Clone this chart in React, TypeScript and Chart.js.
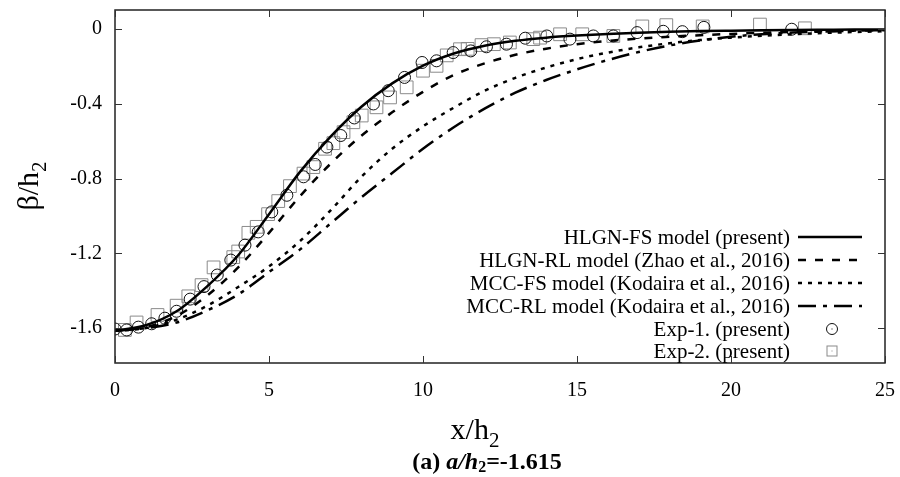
import React, { useEffect, useRef } from 'react';
import { Chart, registerables } from 'chart.js';

Chart.register(...registerables);

const FONT = '"Liberation Serif", "DejaVu Serif", serif';

const xTickValues = [0, 5, 10, 15, 20, 25];
const yTickValues = [-1.6, -1.2, -0.8, -0.4, 0];
const yTickLabels = ['-1.6', '-1.2', '-0.8', '-0.4', '0'];

const modelX = [0, 1, 2, 3, 4, 5, 6, 7, 8, 9, 10, 11, 12, 13, 14, 15, 16, 17, 18, 19, 20, 21, 22, 23, 24, 25];
const hlgnFS = [-1.615, -1.585, -1.51, -1.375, -1.21, -0.99, -0.765, -0.575, -0.415, -0.29, -0.195, -0.13, -0.088, -0.062, -0.045, -0.034, -0.026, -0.019, -0.014, -0.01, -0.0075, -0.0055, -0.004, -0.003, -0.002, -0.0015];
const hlgnRL = [-1.615, -1.595, -1.535, -1.425, -1.275, -1.09, -0.895, -0.72, -0.57, -0.445, -0.335, -0.245, -0.183, -0.137, -0.104, -0.08, -0.063, -0.05, -0.04, -0.032, -0.025, -0.019, -0.014, -0.01, -0.007, -0.005];
const mccFS = [-1.615, -1.6, -1.555, -1.48, -1.38, -1.27, -1.135, -0.97, -0.79, -0.64, -0.52, -0.42, -0.33, -0.26, -0.205, -0.16, -0.125, -0.097, -0.075, -0.058, -0.045, -0.035, -0.027, -0.02, -0.015, -0.011];
const mccRL = [-1.615, -1.6, -1.57, -1.505, -1.42, -1.3, -1.18, -1.04, -0.9, -0.77, -0.64, -0.525, -0.425, -0.34, -0.272, -0.215, -0.165, -0.122, -0.087, -0.06, -0.04, -0.027, -0.018, -0.012, -0.008, -0.005];

const exp1X = [0, 0.38, 0.76, 1.19, 1.62, 2.0, 2.44, 2.89, 3.32, 3.76, 4.22, 4.65, 5.09, 5.58, 6.12, 6.5, 6.88, 7.33, 7.77, 8.39, 8.87, 9.4, 9.97, 10.44, 10.98, 11.55, 12.06, 12.71, 13.32, 14.02, 14.77, 15.53, 16.18, 16.95, 17.8, 18.42, 19.12, 21.97];
const exp1Y = [-1.605, -1.61, -1.595, -1.577, -1.547, -1.51, -1.445, -1.378, -1.316, -1.236, -1.156, -1.085, -0.978, -0.889, -0.79, -0.724, -0.631, -0.569, -0.475, -0.4, -0.329, -0.258, -0.178, -0.169, -0.125, -0.116, -0.094, -0.08, -0.048, -0.036, -0.053, -0.036, -0.036, -0.018, -0.011, -0.013, 0.01, 0.0];

const exp2X = [0.32, 0.7, 1.38, 2.0, 2.38, 2.81, 3.2, 3.84, 4.0, 4.33, 4.6, 4.97, 5.3, 5.68, 6.12, 6.44, 6.82, 7.09, 7.42, 7.74, 8.01, 8.49, 8.93, 9.47, 10.0, 10.44, 10.77, 11.2, 11.45, 11.9, 12.3, 12.82, 13.58, 13.8, 14.45, 15.17, 16.18, 17.12, 17.9, 19.08, 20.94, 22.4];
const exp2Y = [-1.61, -1.57, -1.53, -1.48, -1.43, -1.37, -1.275, -1.22, -1.19, -1.09, -1.058, -0.99, -0.92, -0.84, -0.773, -0.738, -0.64, -0.61, -0.551, -0.498, -0.462, -0.418, -0.365, -0.311, -0.222, -0.196, -0.14, -0.107, -0.105, -0.085, -0.08, -0.071, -0.053, -0.045, -0.027, -0.027, -0.036, 0.015, 0.022, 0.015, 0.025, 0.005];

const legendLabels = [
  'HLGN-FS model (present)',
  'HLGN-RL model (Zhao et al., 2016)',
  'MCC-FS model (Kodaira et al., 2016)',
  'MCC-RL model (Kodaira et al., 2016)',
  'Exp-1. (present)',
  'Exp-2. (present)',
];

const toPts = (xs: number[], ys: number[]) => xs.map((x, i) => ({ x, y: ys[i] }));

const legendRows = [237, 260, 283, 306, 329, 351];

const decorPlugin = {
  id: 'decor',
  afterDraw(chart: any) {
    const { ctx, chartArea: a, scales } = chart;
    const xs = scales.x;
    const ys = scales.y;
    ctx.save();
    const line = (x1: number, y1: number, x2: number, y2: number) => {
      ctx.beginPath();
      ctx.moveTo(x1, y1);
      ctx.lineTo(x2, y2);
      ctx.stroke();
    };
    // frame
    ctx.setLineDash([]);
    ctx.strokeStyle = '#222';
    ctx.lineWidth = 1.5;
    ctx.strokeRect(a.left, a.top, a.right - a.left, a.bottom - a.top);
    // inward ticks
    ctx.lineWidth = 1;
    ctx.strokeStyle = '#333';
    xTickValues.forEach((v) => {
      const px = Math.round(xs.getPixelForValue(v)) + 0.5;
      line(px, a.bottom, px, a.bottom - 7);
      line(px, a.top, px, a.top + 7);
    });
    yTickValues.forEach((v) => {
      const py = Math.round(ys.getPixelForValue(v)) + 0.5;
      line(a.left, py, a.left + 7, py);
      line(a.right, py, a.right - 7, py);
    });

    // legend
    ctx.font = `21px ${FONT}`;
    ctx.textAlign = 'right';
    ctx.textBaseline = 'middle';
    chart.data.datasets.forEach((ds: any, i: number) => {
      const y = legendRows[i];
      ctx.fillStyle = '#000';
      ctx.fillText(legendLabels[i], 790, y + 1);
      if (ds.showLine !== false) {
        ctx.save();
        ctx.strokeStyle = ds.borderColor;
        ctx.lineWidth = ds.borderWidth;
        ctx.setLineDash(ds.borderDash || []);
        line(798, y, 862, y);
        ctx.restore();
      } else {
        ctx.save();
        ctx.strokeStyle = ds.pointBorderColor;
        ctx.lineWidth = 1;
        if (ds.pointStyle === 'circle') {
          ctx.beginPath();
          ctx.arc(832, y, 5.5, 0, Math.PI * 2);
          ctx.stroke();
        } else {
          ctx.strokeRect(827, y - 5, 10, 10);
        }
        ctx.fillStyle = ds.pointBorderColor;
        ctx.fillRect(831.5, y - 0.5, 1, 1);
        ctx.restore();
      }
    });

    // y title  β/h2
    ctx.save();
    ctx.translate(38, 186);
    ctx.rotate(-Math.PI / 2);
    ctx.fillStyle = '#000';
    ctx.textBaseline = 'alphabetic';
    ctx.textAlign = 'left';
    const yMain = 'β/h';
    ctx.font = `30px ${FONT}`;
    const wMain = ctx.measureText(yMain).width;
    ctx.font = `21px ${FONT}`;
    const wSub = ctx.measureText('2').width;
    const tot = wMain + wSub;
    ctx.font = `30px ${FONT}`;
    ctx.fillText(yMain, -tot / 2, 0);
    ctx.font = `21px ${FONT}`;
    ctx.fillText('2', -tot / 2 + wMain, 8);
    ctx.restore();

    // x title x/h2
    ctx.save();
    ctx.fillStyle = '#000';
    ctx.textBaseline = 'alphabetic';
    ctx.textAlign = 'left';
    ctx.font = `30px ${FONT}`;
    const xm = 'x/h';
    const wxm = ctx.measureText(xm).width;
    ctx.font = `21px ${FONT}`;
    const wxs = ctx.measureText('2').width;
    const cx = 475;
    const bx = cx - (wxm + wxs) / 2;
    ctx.font = `30px ${FONT}`;
    ctx.fillText(xm, bx, 439);
    ctx.font = `21px ${FONT}`;
    ctx.fillText('2', bx + wxm, 447);
    ctx.restore();

    // caption (a) a/h2=-1.615
    ctx.save();
    ctx.fillStyle = '#000';
    ctx.textBaseline = 'alphabetic';
    ctx.textAlign = 'left';
    const parts = [
      { t: '(a) ', f: `bold 24px ${FONT}`, dy: 0 },
      { t: 'a/h', f: `italic bold 24px ${FONT}`, dy: 0 },
      { t: '2', f: `bold 16px ${FONT}`, dy: 3 },
      { t: '=-1.615', f: `bold 24px ${FONT}`, dy: 0 },
    ];
    let total = 0;
    parts.forEach((p) => {
      ctx.font = p.f;
      total += ctx.measureText(p.t).width;
    });
    let px = 487 - total / 2;
    parts.forEach((p) => {
      ctx.font = p.f;
      ctx.fillText(p.t, px, 469 + p.dy);
      px += ctx.measureText(p.t).width;
    });
    ctx.restore();

    ctx.restore();
  },
};

export default function App() {
  const ref = useRef<HTMLCanvasElement>(null);
  useEffect(() => {
    document.body.style.margin = '0';
    const canvas = ref.current;
    if (!canvas) return;
    const lineDs = (data: number[], dash: number[]) => ({
      data: toPts(modelX, data),
      borderColor: '#000',
      backgroundColor: '#000',
      borderWidth: 2.5,
      borderDash: dash,
      pointRadius: 0,
      cubicInterpolationMode: 'monotone' as const,
      fill: false,
      showLine: true,
    });
    const chart = new Chart(canvas, {
      type: 'scatter',
      data: {
        datasets: [
          { label: legendLabels[0], ...lineDs(hlgnFS, []) },
          { label: legendLabels[1], ...lineDs(hlgnRL, [8, 9]) },
          { label: legendLabels[2], ...lineDs(mccFS, [4, 6]) },
          { label: legendLabels[3], ...lineDs(mccRL, [18, 7, 4, 7]) },
          {
            label: legendLabels[4],
            data: toPts(exp1X, exp1Y),
            showLine: false,
            pointStyle: 'circle',
            pointRadius: 6,
            pointBorderColor: '#111',
            pointBackgroundColor: 'rgba(0,0,0,0)',
            pointBorderWidth: 1,
          },
          {
            label: legendLabels[5],
            data: toPts(exp2X, exp2Y),
            showLine: false,
            pointStyle: 'rect',
            pointRadius: 9,
            pointBorderColor: '#8a8a8a',
            pointBackgroundColor: 'rgba(0,0,0,0)',
            pointBorderWidth: 1,
          },
        ],
      },
      options: {
        responsive: false,
        animation: false,
        devicePixelRatio: 1,
        layout: { padding: { left: 0, right: 15, top: 9, bottom: 0 } },
        plugins: {
          legend: { display: false },
          tooltip: { enabled: false },
        },
        scales: {
          x: {
            type: 'linear',
            min: 0,
            max: 25,
            grid: { display: false, drawTicks: false },
            border: { display: false },
            afterBuildTicks: (s: any) => {
              s.ticks = xTickValues.map((v) => ({ value: v }));
            },
            afterFit: (s: any) => {
              s.height = 114;
              s.paddingLeft = 0;
              s.paddingRight = 0;
              s.paddingTop = 0;
              s.paddingBottom = 0;
            },
            ticks: {
              padding: 16,
              color: '#000',
              font: { family: FONT, size: 20 },
              callback: (v: any) => String(v),
              maxRotation: 0,
            },
          },
          y: {
            type: 'linear',
            min: -1.787,
            max: 0.103,
            grid: { display: false, drawTicks: false },
            border: { display: false },
            afterBuildTicks: (s: any) => {
              s.ticks = yTickValues.map((v) => ({ value: v }));
            },
            afterFit: (s: any) => {
              s.width = 115;
              s.paddingLeft = 0;
              s.paddingRight = 0;
              s.paddingTop = 0;
              s.paddingBottom = 0;
            },
            ticks: {
              padding: 13,
              color: '#000',
              font: { family: FONT, size: 20 },
              callback: (v: any) => {
                const i = yTickValues.findIndex((t) => Math.abs(t - Number(v)) < 1e-6);
                return i >= 0 ? yTickLabels[i] : '';
              },
            },
          },
        },
      },
      plugins: [decorPlugin],
    });
    return () => chart.destroy();
  }, []);
  return (
    <div style={{ width: 900, height: 477, background: '#fff' }}>
      <canvas ref={ref} width={900} height={477} style={{ display: 'block', width: 900, height: 477 }} />
    </div>
  );
}
